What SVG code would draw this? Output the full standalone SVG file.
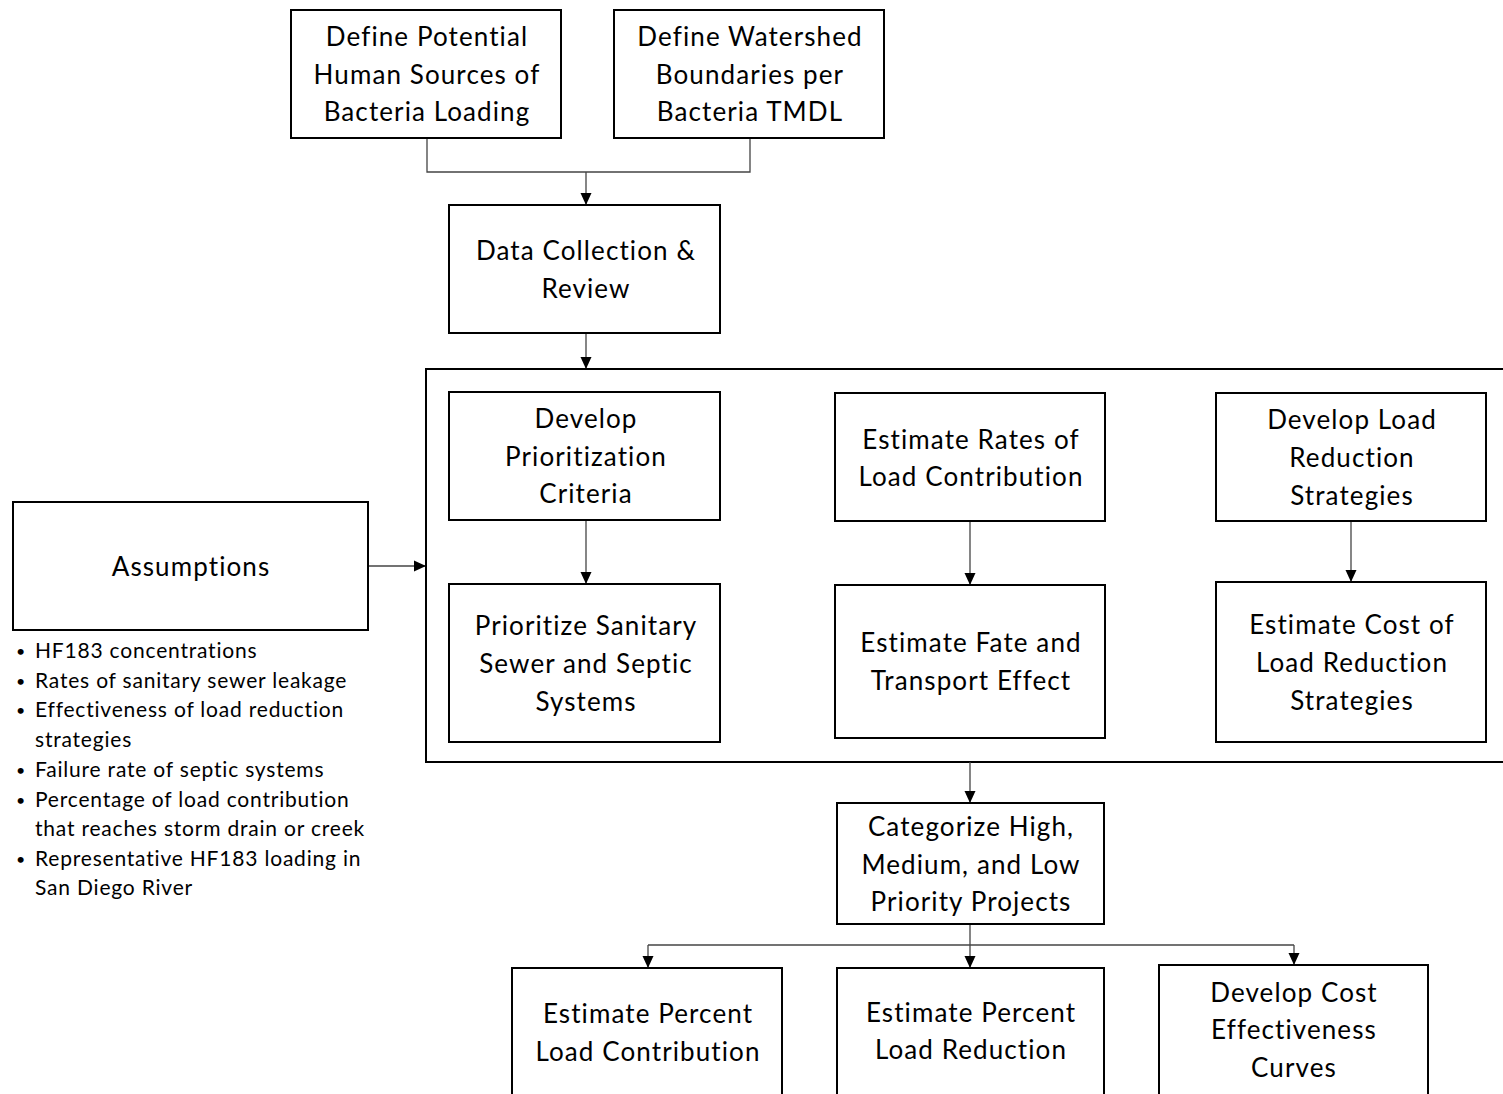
<svg xmlns="http://www.w3.org/2000/svg" width="1503" height="1094" viewBox="0 0 1503 1094">
<style>
.box{fill:#fff;stroke:#000;stroke-width:2}
.t{font-family:Lato,"Open Sans",sans-serif;font-size:26px;letter-spacing:1.1px;fill:#000;text-anchor:middle}
.b{font-family:Lato,"Open Sans",sans-serif;font-size:21px;letter-spacing:0.8px;fill:#000}
.d{font-family:Lato,"Open Sans",sans-serif;font-size:16px;fill:#000}
.c{fill:none;stroke:#444;stroke-width:1.3}
</style>
<defs>
<marker id="ah" markerWidth="12" markerHeight="12" refX="11" refY="6" orient="auto" markerUnits="userSpaceOnUse">
<path d="M0,0.5 L12,6 L0,11.5 Z" fill="#000"/>
</marker>
</defs>
<rect width="1503" height="1094" fill="#fff"/>
<g id="container"><rect x="426" y="369" width="1090" height="393" fill="none" stroke="#000" stroke-width="2"/></g>
<g id="connectors">
<path class="c" d="M427,138 V172 H750 V138"/>
<path class="c" d="M586,172 V204" marker-end="url(#ah)"/>
<path class="c" d="M586,333 V368" marker-end="url(#ah)"/>
<path class="c" d="M586,520 V583" marker-end="url(#ah)"/>
<path class="c" d="M970,521 V584" marker-end="url(#ah)"/>
<path class="c" d="M1351,521 V581" marker-end="url(#ah)"/>
<path class="c" d="M368,566 H425" marker-end="url(#ah)"/>
<path class="c" d="M970,762 V802" marker-end="url(#ah)"/>
<path class="c" d="M970,924 V967" marker-end="url(#ah)"/>
<path class="c" d="M648,945 H1294"/>
<path class="c" d="M648,945 V967" marker-end="url(#ah)"/>
<path class="c" d="M1294,945 V964" marker-end="url(#ah)"/>
</g>
<g id="n1"><rect class="box" x="291" y="10" width="270" height="128"/><text class="t" x="427" y="46">Define Potential</text><text class="t" x="427" y="84">Human Sources of</text><text class="t" x="427" y="121">Bacteria Loading</text></g>
<g id="n2"><rect class="box" x="614" y="10" width="270" height="128"/><text class="t" x="750" y="46">Define Watershed</text><text class="t" x="750" y="84">Boundaries per</text><text class="t" x="750" y="121">Bacteria TMDL</text></g>
<g id="n3"><rect class="box" x="449" y="205" width="271" height="128"/><text class="t" x="586" y="260">Data Collection &amp;</text><text class="t" x="586" y="298">Review</text></g>
<g id="n4"><rect class="box" x="449" y="392" width="271" height="128"/><text class="t" x="586" y="428">Develop</text><text class="t" x="586" y="466">Prioritization</text><text class="t" x="586" y="503">Criteria</text></g>
<g id="n5"><rect class="box" x="449" y="584" width="271" height="158"/><text class="t" x="586" y="635">Prioritize Sanitary</text><text class="t" x="586" y="673">Sewer and Septic</text><text class="t" x="586" y="711">Systems</text></g>
<g id="n6"><rect class="box" x="835" y="393" width="270" height="128"/><text class="t" x="971" y="449">Estimate Rates of</text><text class="t" x="971" y="486">Load Contribution</text></g>
<g id="n7"><rect class="box" x="835" y="585" width="270" height="153"/><text class="t" x="971" y="652">Estimate Fate and</text><text class="t" x="971" y="690">Transport Effect</text></g>
<g id="n8"><rect class="box" x="1216" y="393" width="270" height="128"/><text class="t" x="1352" y="429">Develop Load</text><text class="t" x="1352" y="467">Reduction</text><text class="t" x="1352" y="505">Strategies</text></g>
<g id="n9"><rect class="box" x="1216" y="582" width="270" height="160"/><text class="t" x="1352" y="634">Estimate Cost of</text><text class="t" x="1352" y="672">Load Reduction</text><text class="t" x="1352" y="710">Strategies</text></g>
<g id="assumptions"><rect class="box" x="13" y="502" width="355" height="128"/><text class="t" x="191" y="576">Assumptions</text>
<text class="d" x="16" y="657">•</text><text class="b" x="35" y="658">HF183 concentrations</text>
<text class="d" x="16" y="687">•</text><text class="b" x="35" y="688">Rates of sanitary sewer leakage</text>
<text class="d" x="16" y="716">•</text><text class="b" x="35" y="717">Effectiveness of load reduction</text>
<text class="b" x="35" y="747">strategies</text>
<text class="d" x="16" y="776">•</text><text class="b" x="35" y="777">Failure rate of septic systems</text>
<text class="d" x="16" y="806">•</text><text class="b" x="35" y="807">Percentage of load contribution</text>
<text class="b" x="35" y="836">that reaches storm drain or creek</text>
<text class="d" x="16" y="865">•</text><text class="b" x="35" y="866">Representative HF183 loading in</text>
<text class="b" x="35" y="895">San Diego River</text>
</g>
<g id="n10"><rect class="box" x="837" y="803" width="267" height="121"/><text class="t" x="971" y="836">Categorize High,</text><text class="t" x="971" y="874">Medium, and Low</text><text class="t" x="971" y="911">Priority Projects</text></g>
<g id="n11"><rect class="box" x="512" y="968" width="270" height="140"/><text class="t" x="648" y="1023">Estimate Percent</text><text class="t" x="648" y="1061">Load Contribution</text></g>
<g id="n12"><rect class="box" x="837" y="968" width="267" height="140"/><text class="t" x="971" y="1022">Estimate Percent</text><text class="t" x="971" y="1059">Load Reduction</text></g>
<g id="n13"><rect class="box" x="1159" y="965" width="269" height="143"/><text class="t" x="1294" y="1002">Develop Cost</text><text class="t" x="1294" y="1039">Effectiveness</text><text class="t" x="1294" y="1077">Curves</text></g>
</svg>
